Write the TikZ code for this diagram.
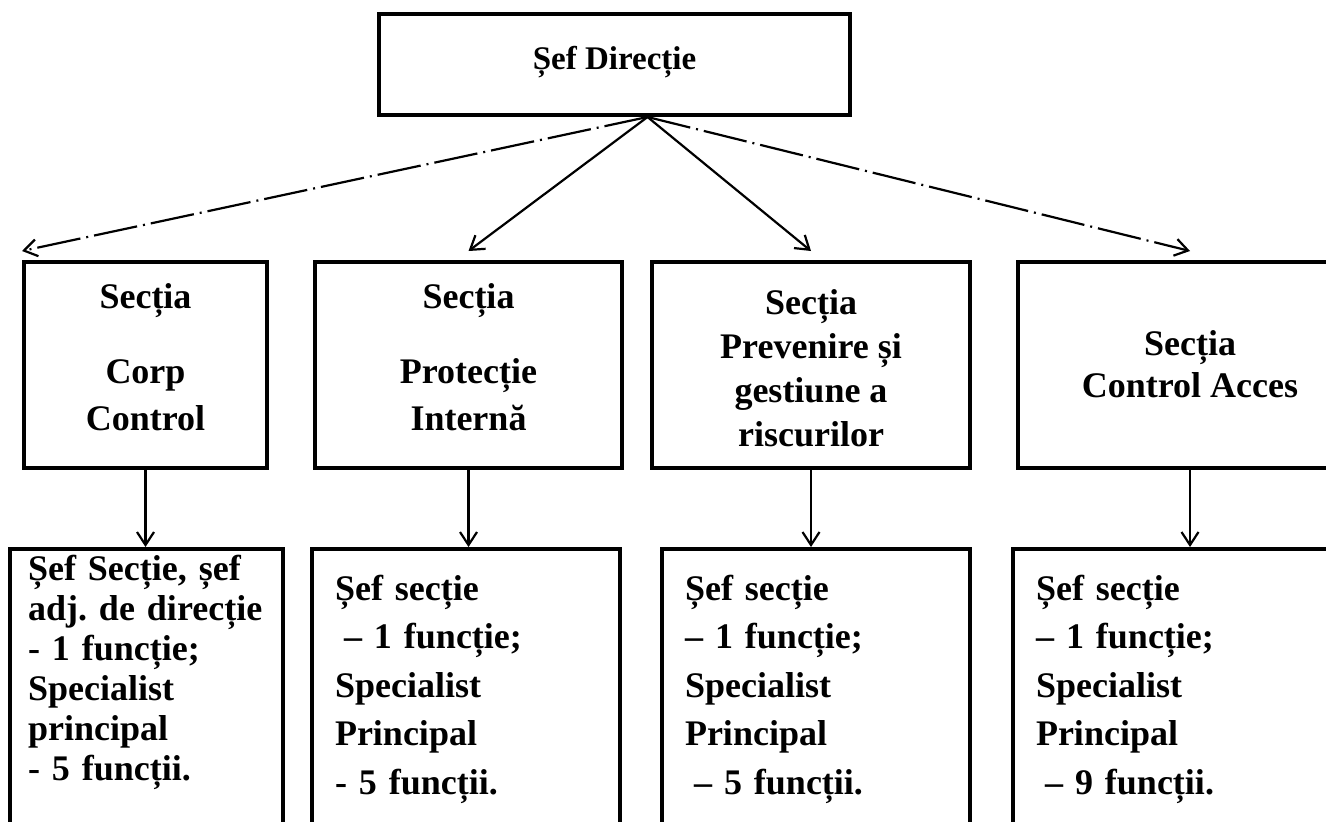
\documentclass[tikz,border=0pt]{standalone}
\usepackage{fontspec}
\setmainfont{Liberation Serif}
\usetikzlibrary{arrows, arrows.meta}
\usetikzlibrary{calc}

\begin{document}
\begin{tikzpicture}[x=0.5pt, y=-0.5pt,
    sectbox/.style={draw, line width=2pt, inner sep=0pt, align=center, text height=84pt, text depth=19pt, font=\bfseries\fontsize{18}{23.5}\selectfont},
    staffbox/.style={draw, line width=2pt, anchor=north, align=left, inner xsep=11.5pt, inner ysep=13pt, text depth=200pt, font=\bfseries\fontsize{18}{24.25}\selectfont},
    link/.style={line width=1.1pt, -{Straight Barb[length=6.5pt, width=8.5pt]}},
    dashlink/.style={link, dash pattern=on 22pt off 3pt on 1pt off 3pt}]
      \useasboundingbox (0,0) rectangle (1326,821);

      \node[draw, line width=2pt, anchor=north, inner sep=0pt, minimum width=235.5pt, text height=27.5pt, text depth=23pt, font=\bfseries\fontsize{16.5}{20}\selectfont] (dir) at (614.5,12) {Șef Direcție};
      \coordinate (hub) at ([xshift=16.5pt]dir.south);

      \node[sectbox, minimum width=121.5pt] (b1) at (145.5,365) {Secția\\[14pt]Corp\\Control};
      \node[sectbox, minimum width=153.5pt] (b2) at (468.5,365) {Secția\\[14pt]Protecție\\Internă};
      \node[sectbox, minimum width=159pt, text height=92pt, text depth=11pt, font=\bfseries\fontsize{18}{22}\selectfont] (b3) at (811,365) {Secția\\Prevenire și\\gestiune a\\riscurilor};
      \node[sectbox, minimum width=172pt, text height=67.5pt, text depth=35.5pt, font=\bfseries\fontsize{18}{21}\selectfont] (b4) at (1190,365) {Secția\\Control Acces};

      \node[staffbox, text width=118.5pt, inner xsep=9pt, inner ysep=3pt, font=\bfseries\fontsize{18}{20}\selectfont] (c1) at (146.5,547) {Șef~Secție,~șef\\adj.~de~direcție\\- 1 funcție;\\Specialist\\principal\\- 5 funcții.};
      \node[staffbox, text width=131pt] (c2) at (466,547) {Șef secție\\\hspace*{4.5pt}– 1 funcție;\\Specialist\\Principal\\- 5 funcții.};
      \node[staffbox, text width=131pt] (c3) at (816,547) {Șef secție\\– 1 funcție;\\Specialist\\Principal\\\hspace*{4.5pt}– 5 funcții.};
      \node[staffbox, text width=154pt] (c4) at (1190,547) {Șef secție\\– 1 funcție;\\Specialist\\Principal\\\hspace*{4.5pt}– 9 funcții.};

      \draw[dashlink] (hub) -- ([yshift=4.5pt]b1.north west);
      \draw[link] (hub) -- ([yshift=4.5pt]b2.north);
      \draw[link] (hub) -- ([yshift=4.5pt]b3.north);
      \draw[dashlink] (hub) -- ([yshift=4.5pt]b4.north);

      \draw[link] (b1.south) -- (b1.south |- c1.north);
      \draw[link] (b2.south) -- (b2.south |- c2.north);
      \draw[link] (b3.south) -- (b3.south |- c3.north);
      \draw[link] (b4.south) -- (b4.south |- c4.north);
    \end{tikzpicture}
\end{document}
